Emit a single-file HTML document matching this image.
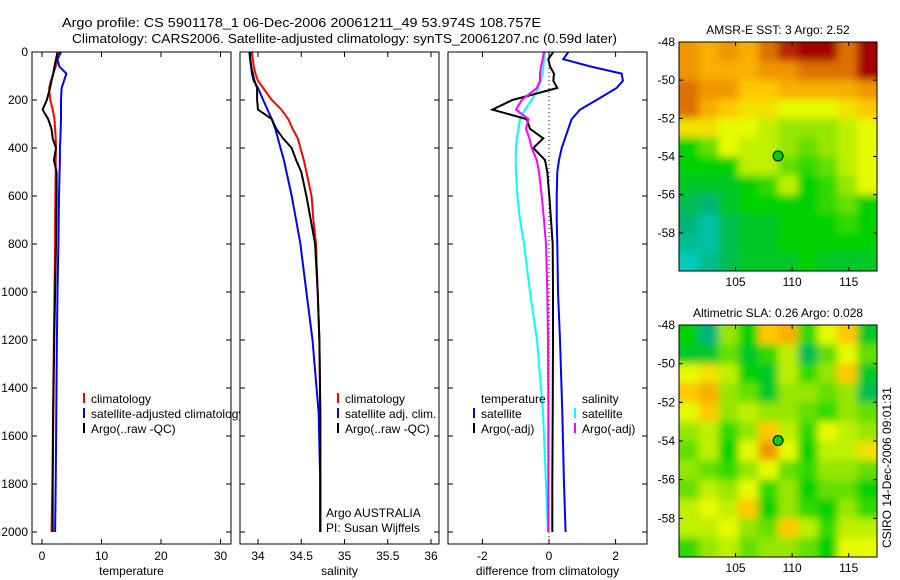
<!DOCTYPE html>
<html><head><meta charset="utf-8"><style>
html,body{margin:0;padding:0;background:#fff;}
svg{display:block;font-family:"Liberation Sans",sans-serif;}
text{font-size:12px;fill:#000;}
</style></head><body>
<svg id="c" width="900" height="580" viewBox="0 0 900 580">
<defs>
<filter id="blur" x="-5%" y="-5%" width="110%" height="110%"><feGaussianBlur stdDeviation="4"/></filter>
<clipPath id="legclip"><rect x="32" y="52" width="208" height="492"/></clipPath>
</defs>
<text x="62" y="27" textLength="479" lengthAdjust="spacingAndGlyphs" style="font-size:13px">Argo profile: CS 5901178_1 06-Dec-2006 20061211_49 53.974S 108.757E</text>
<text x="72" y="43" textLength="545" lengthAdjust="spacingAndGlyphs" style="font-size:13px">Climatology: CARS2006. Satellite-adjusted climatology: synTS_20061207.nc (0.59d later)</text>
</svg>
<script>
// ---- data ----
const depths = [0,30,60,90,120,150,200,240,280,320,360,400,450,500,600,700,800,1000,1200,1500,1800,2000];
const tempClim = [2.8,2.6,2.3,1.9,1.5,1.2,1.4,1.8,2.1,2.2,2.3,2.35,2.3,2.3,2.25,2.2,2.2,2.1,2.0,1.85,1.75,1.6];
const tempSat = [3.2,2.6,2.9,4.1,3.7,3.3,3.2,3.2,3.2,3.15,3.1,3.0,3.0,2.95,2.85,2.8,2.75,2.6,2.5,2.4,2.3,2.2];
const tempArgo = [2.6,2.35,2.1,1.9,1.6,1.35,0.8,0.1,1.05,1.6,1.8,2.35,2.0,2.45,2.45,2.4,2.35,2.2,2.05,1.9,1.8,1.8];
const salClim = [33.93,33.94,33.95,33.97,34.0,34.06,34.16,34.27,34.35,34.4,34.46,34.49,34.53,34.56,34.62,34.64,34.67,34.69,34.71,34.72,34.72,34.72];
const salSat = [33.9,33.91,33.92,33.93,33.95,34.0,34.06,34.11,34.16,34.2,34.23,34.26,34.3,34.33,34.39,34.44,34.49,34.56,34.63,34.7,34.72,34.72];
const salArgo = [33.91,33.91,33.92,33.94,33.96,33.99,33.99,34.0,34.16,34.21,34.29,34.39,34.44,34.5,34.56,34.61,34.66,34.69,34.71,34.72,34.72,34.72];
const dTempSat = [0.58,0.43,1.23,2.18,2.22,2.03,1.43,0.93,0.68,0.58,0.48,0.38,0.3,0.25,0.23,0.23,0.25,0.27,0.33,0.4,0.45,0.5];
const dTempArgo = [0.13,-0.02,0.03,0.15,0.13,0.25,-1.1,-1.7,-0.67,-0.57,-0.17,-0.47,-0.12,-0.05,0.01,0.06,0.11,0.12,0.12,0.11,0.1,0.1];
const dSalArgo = [-0.15,-0.19,-0.24,-0.27,-0.27,-0.37,-0.82,-0.99,-0.62,-0.69,-0.59,-0.52,-0.37,-0.3,-0.22,-0.15,-0.09,-0.05,-0.03,-0.02,-0.02,-0.02];
const dSalSat = [-0.12,-0.15,-0.17,-0.2,-0.24,-0.32,-0.52,-0.72,-0.87,-0.92,-0.97,-0.99,-1.0,-0.99,-0.95,-0.87,-0.75,-0.57,-0.36,-0.18,-0.09,-0.03];
const depthTicks = [0,200,400,600,800,1000,1200,1400,1600,1800,2000];
const tempTicks = [0,10,20,30];
const salTicks = [34,34.5,35,35.5,36];
const salTickLabels = ["34","34.5","35","35.5","36"];
const diffTicks = [-2,0,2];
const latTicks = [-48,-50,-52,-54,-56,-58];
const lonTicks = [105,110,115];
const sstGrid = [
[0.8,0.75,0.8,0.75,0.85,0.95,1,1,0.85,1],
[0.8,0.75,0.75,0.75,0.8,0.8,0.85,0.85,0.85,1],
[0.85,0.8,0.8,0.7,0.7,0.75,0.75,0.75,0.75,0.8],
[0.85,0.75,0.7,0.65,0.65,0.6,0.6,0.6,0.65,0.7],
[0.65,0.65,0.6,0.6,0.55,0.5,0.5,0.5,0.55,0.6],
[0.35,0.45,0.6,0.55,0.55,0.5,0.45,0.5,0.55,0.6],
[0.35,0.35,0.35,0.55,0.55,0.45,0.4,0.45,0.55,0.6],
[0.3,0.3,0.3,0.35,0.4,0.55,0.35,0.4,0.5,0.6],
[0.25,0.2,0.3,0.35,0.35,0.35,0.35,0.4,0.45,0.35],
[0.2,0.1,0.25,0.3,0.3,0.35,0.35,0.35,0.4,0.35],
[0.15,0.1,0.25,0.3,0.3,0.35,0.35,0.35,0.35,0.35],
[0.05,0.15,0.25,0.3,0.3,0.3,0.35,0.3,0.3,0.3]];
const slaGrid = [
[0.35,0.2,0.5,0.35,0.7,0.75,0.4,0.6,0.7,0.3],
[0.3,0.3,0.45,0.3,0.4,0.55,0.25,0.45,0.6,0.45],
[0.6,0.65,0.55,0.35,0.3,0.55,0.4,0.5,0.7,0.3],
[0.7,0.75,0.5,0.45,0.3,0.5,0.5,0.45,0.5,0.25],
[0.6,0.7,0.5,0.55,0.5,0.5,0.45,0.4,0.5,0.45],
[0.5,0.55,0.4,0.5,0.7,0.55,0.4,0.6,0.55,0.5],
[0.45,0.55,0.35,0.6,0.8,0.6,0.35,0.55,0.55,0.65],
[0.5,0.45,0.4,0.5,0.6,0.45,0.4,0.5,0.5,0.45],
[0.45,0.55,0.5,0.6,0.4,0.5,0.35,0.45,0.45,0.35],
[0.55,0.6,0.55,0.7,0.35,0.5,0.4,0.35,0.5,0.4],
[0.55,0.55,0.6,0.5,0.45,0.7,0.55,0.4,0.55,0.55],
[0.4,0.5,0.55,0.45,0.5,0.5,0.45,0.35,0.6,0.6]];
const floatLon = 108.757, floatLat = -53.974;

// ---- helpers ----
const svg = document.getElementById('c');
const NS = 'http://www.w3.org/2000/svg';
function mk(tag, attrs, parent){const e=document.createElementNS(NS,tag);for(const k in attrs)e.setAttribute(k,attrs[k]);(parent||svg).appendChild(e);return e;}
const TOP=52, BOT=544;
const yD = d => 52 + 0.24*d;
const panels = [
 {l:32,r:231,x:v=>42+5.95*v,ticks:tempTicks,labels:tempTicks.map(String),title:'temperature',name:'temperature-panel'},
 {l:240,r:439,x:v=>258+86.5*(v-34),ticks:salTicks,labels:salTickLabels,title:'salinity',name:'salinity-panel'},
 {l:448,r:647,x:v=>549+33.3*v,ticks:diffTicks,labels:diffTicks.map(String),title:'difference from climatology',name:'difference-panel'}
];
panels.forEach((p,i)=>{
  const g = mk('g',{});
  
  
  const cp = mk('clipPath',{id:'cp'+i},g); mk('rect',{x:p.l,y:TOP,width:p.r-p.l,height:BOT-TOP},cp);
  p.g=g;
  p.ticks.forEach((t,j)=>{
    const x=p.x(t);
    mk('line',{x1:x,y1:BOT,x2:x,y2:BOT-5,stroke:'#000'},g);
    mk('line',{x1:x,y1:TOP,x2:x,y2:TOP+5,stroke:'#000'},g);
    const tx=mk('text',{x:x,y:560,'text-anchor':'middle'},g); tx.textContent=p.labels[j];
    
    
  });
  depthTicks.forEach(d=>{
    mk('line',{x1:p.l,y1:yD(d),x2:p.l+5,y2:yD(d),stroke:'#000'},g);
    mk('line',{x1:p.r,y1:yD(d),x2:p.r-5,y2:yD(d),stroke:'#000'},g);
  });
  const tt=mk('text',{x:(p.l+p.r)/2,y:575,'text-anchor':'middle'},g); tt.textContent=p.title;
  
  
});
depthTicks.forEach(d=>{
  const t=mk('text',{x:28,y:yD(d)+4,'text-anchor':'end'}); t.textContent=String(d);
  
  
});
function profile(p,i,vals,color,name,w){
  const pts=vals.map((v,k)=>p.x(v).toFixed(1)+','+yD(depths[k]).toFixed(1)).join(' ');
  const e=mk('polyline',{points:pts,fill:'none',stroke:color,'stroke-width':w||2,'clip-path':'url(#cp'+i+')'},p.g);
  
  
}
mk('line',{x1:panels[2].x(0),y1:TOP,x2:panels[2].x(0),y2:BOT,stroke:'#000','stroke-dasharray':'1,3'},panels[2].g);
profile(panels[0],0,tempClim,'#f00','temp-climatology-line');
profile(panels[0],0,tempSat,'#00f','temp-satellite-line');
profile(panels[0],0,tempArgo,'#000','temp-argo-line');
profile(panels[1],1,salClim,'#f00','sal-climatology-line');
profile(panels[1],1,salSat,'#00f','sal-satellite-line');
profile(panels[1],1,salArgo,'#000','sal-argo-line');
profile(panels[2],2,dSalSat,'#0ff','diff-sal-satellite-line');
profile(panels[2],2,dTempSat,'#00f','diff-temp-satellite-line');
profile(panels[2],2,dTempArgo,'#000','diff-temp-argo-line');
profile(panels[2],2,dSalArgo,'#f0f','diff-sal-argo-line');
function leg(x,y,color,label,clip){
  if(color){const l=mk('line',{x1:x,y1:y-10,x2:x,y2:y,stroke:color,'stroke-width':2});
    
    }
  const t=mk('text',{x:x+7,y:y}); t.textContent=label;
  if(clip) t.setAttribute('clip-path','url(#legclip)');
  
  
}
leg(84,403,'#f00','climatology');
leg(84,418,'#00f','satellite-adjusted climatology',true);
leg(84,433,'#000','Argo(..raw -QC)');
leg(338,403,'#f00','climatology');
leg(338,418,'#00f','satellite adj. clim.');
leg(338,433,'#000','Argo(..raw -QC)');
leg(474,403,null,'temperature');
leg(474,418,'#00f','satellite');
leg(474,433,'#000','Argo(-adj)');
leg(575,403,null,'salinity');
leg(575,418,'#0ff','satellite');
leg(575,433,'#f0f','Argo(-adj)');
const a1=mk('text',{x:326,y:517}); a1.textContent='Argo AUSTRALIA';


const a2=mk('text',{x:326,y:532}); a2.textContent='PI: Susan Wijffels';


panels.forEach(p=>{mk('rect',{x:p.l,y:TOP,width:p.r-p.l,height:BOT-TOP,fill:'none',stroke:'#000'},p.g);});

// ---- maps ----
const stops=[[0,[0,210,210]],[0.2,[0,180,120]],[0.35,[0,210,0]],[0.5,[150,230,0]],[0.6,[230,250,0]],[0.7,[255,200,0]],[0.8,[240,150,0]],[0.88,[210,90,0]],[1,[165,0,0]]];
function col(v){for(let i=1;i<stops.length;i++){if(v<=stops[i][0]){const [a,ca]=stops[i-1],[b,cb]=stops[i];const f=(v-a)/(b-a);return 'rgb('+ca.map((c,k)=>Math.round(c+(cb[k]-c)*f)).join(',')+')';}}return 'rgb(165,0,0)';}
let mapId=0;
function map(top,bottom,grid,title,name){
  const L=679,R=877;
  const xL=lon=>L+(lon-100)*(R-L)/17.5;
  const yL=lat=>top+(-48-lat)*(bottom-top)/12;
  const g=mk('g',{});
  
  
  const id='mc'+(mapId++);
  const cp=mk('clipPath',{id:id},g); mk('rect',{x:L,y:top,width:R-L,height:bottom-top},cp);
  const outer=mk('g',{'clip-path':'url(#'+id+')'},g);
  const cells=mk('g',{filter:'url(#blur)'},outer);
  grid.forEach((row,r)=>row.forEach((v,c)=>{
    let x0=xL(100+c*1.75),x1=xL(100+(c+1)*1.75),y0=yL(-48-r),y1=yL(-49-r);
    if(c===0)x0-=12; if(c===row.length-1)x1+=12; if(r===0)y0-=12; if(r===grid.length-1)y1+=12;
    const e=mk('rect',{x:x0.toFixed(2),y:y0.toFixed(2),width:(x1-x0+0.5).toFixed(2),height:(y1-y0+0.5).toFixed(2),fill:col(v)},cells);
    
    
  }));
  mk('rect',{x:L,y:top,width:R-L,height:bottom-top,fill:'none',stroke:'#000'},g);
  latTicks.forEach(t=>{const y=yL(t);mk('line',{x1:L,y1:y,x2:L+4,y2:y,stroke:'#000'},g);mk('line',{x1:R,y1:y,x2:R-4,y2:y,stroke:'#000'},g);
    const tx=mk('text',{x:L-4,y:y+4,'text-anchor':'end'},g);tx.textContent=String(t);
    
    });
  lonTicks.forEach(t=>{const x=xL(t);mk('line',{x1:x,y1:top,x2:x,y2:top+4,stroke:'#000'},g);mk('line',{x1:x,y1:bottom,x2:x,y2:bottom-4,stroke:'#000'},g);
    const tx=mk('text',{x:x,y:bottom+15,'text-anchor':'middle'},g);tx.textContent=String(t);
    
    });
  const tt=mk('text',{x:(L+R)/2,y:top-8,'text-anchor':'middle'},g);tt.textContent=title;
  
  
  const m=mk('circle',{cx:xL(floatLon),cy:yL(floatLat),r:5,fill:'#00d000',stroke:'#000'},g);
  
  
}
map(42,271,sstGrid,'AMSR-E SST: 3 Argo: 2.52','sst-map');
map(325,557,slaGrid,'Altimetric SLA: 0.26 Argo: 0.028','sla-map');
const st=mk('text',{x:0,y:0,transform:'translate(891,548) rotate(-90)'});
st.textContent='CSIRO 14-Dec-2006 09:01:31';


</script>
</body></html>
